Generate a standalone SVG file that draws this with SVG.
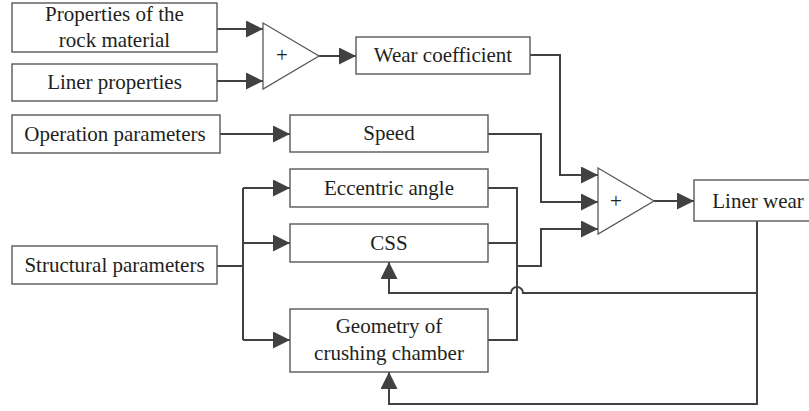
<svg xmlns="http://www.w3.org/2000/svg" width="809" height="411" viewBox="0 0 809 411">
<defs>
<marker id="ah" markerUnits="userSpaceOnUse" markerWidth="17" markerHeight="17" refX="17" refY="8.5" orient="auto" viewBox="0 0 17 17">
<path d="M0,0 L17,8.5 L0,17 z" fill="#414042"/>
</marker>
<style>
.box{fill:#fff;stroke:#58595b;stroke-width:1.4}
.tri{fill:#fff;stroke:#58595b;stroke-width:1.3}
.lbl{font-family:"Liberation Serif","Times New Roman",serif;font-size:21px;fill:#231f20;text-anchor:middle}
.c{fill:none;stroke:#414042;stroke-width:2}
.a{marker-end:url(#ah)}
</style>
</defs>
<rect width="809" height="411" fill="#fff"/>
<g id="connectors">
<path class="c a" d="M217,29 H263"/>
<path class="c a" d="M217,81 H263"/>
<path class="c a" d="M319,56 H356"/>
<path class="c a" d="M220,134 H290"/>
<path class="c a" d="M530,55 H560 V175 H598"/>
<path class="c a" d="M488,134 H541 V202 H598"/>
<path class="c" d="M488,188 H517 V340 H488"/>
<path class="c" d="M488,243 H517"/>
<path class="c a" d="M517,266 H541 V229 H598"/>
<path class="c a" d="M654,201 H694"/>
<path class="c" d="M217,266 H243"/>
<path class="c" d="M243,188 V340"/>
<path class="c a" d="M243,188 H290"/>
<path class="c a" d="M243,243 H290"/>
<path class="c a" d="M243,340 H290"/>
<path class="c a" d="M757,221 V404 H389 V372"/>
<path class="c a" d="M757,293 H523 A6,6 0 0 0 511,293 H389 V262"/>
</g>
<g id="sum1">
<polygon class="tri" points="263,23 319,56 263,89"/>
<text class="lbl" x="282" y="62">+</text>
</g>
<g id="sum2">
<polygon class="tri" points="598,168 654,201 598,234"/>
<text class="lbl" x="616" y="208">+</text>
</g>
<g id="rock">
<rect class="box" x="12" y="3" width="205" height="49"/>
<text class="lbl" x="114.5" y="21">Properties of the</text>
<text class="lbl" x="114.5" y="47">rock material</text>
</g>
<g id="liner">
<rect class="box" x="12" y="64" width="205" height="37"/>
<text class="lbl" x="114.5" y="89">Liner properties</text>
</g>
<g id="operation">
<rect class="box" x="12" y="115" width="208" height="38"/>
<text class="lbl" x="115" y="141">Operation parameters</text>
</g>
<g id="structural">
<rect class="box" x="12" y="246" width="205" height="38"/>
<text class="lbl" x="114.5" y="272">Structural parameters</text>
</g>
<g id="wear">
<rect class="box" x="356" y="37" width="174" height="37"/>
<text class="lbl" x="443" y="62">Wear coefficient</text>
</g>
<g id="speed">
<rect class="box" x="290" y="115" width="198" height="37"/>
<text class="lbl" x="389" y="140">Speed</text>
</g>
<g id="eccentric">
<rect class="box" x="290" y="169" width="198" height="38"/>
<text class="lbl" x="389" y="195">Eccentric angle</text>
</g>
<g id="css">
<rect class="box" x="290" y="224" width="198" height="38"/>
<text class="lbl" x="389" y="250">CSS</text>
</g>
<g id="geometry">
<rect class="box" x="290" y="309" width="198" height="63"/>
<text class="lbl" x="389" y="333">Geometry of</text>
<text class="lbl" x="389" y="360">crushing chamber</text>
</g>
<g id="linerwear">
<rect class="box" x="694" y="180" width="126" height="41"/>
<text class="lbl" x="758" y="208">Liner wear</text>
</g>
</svg>
